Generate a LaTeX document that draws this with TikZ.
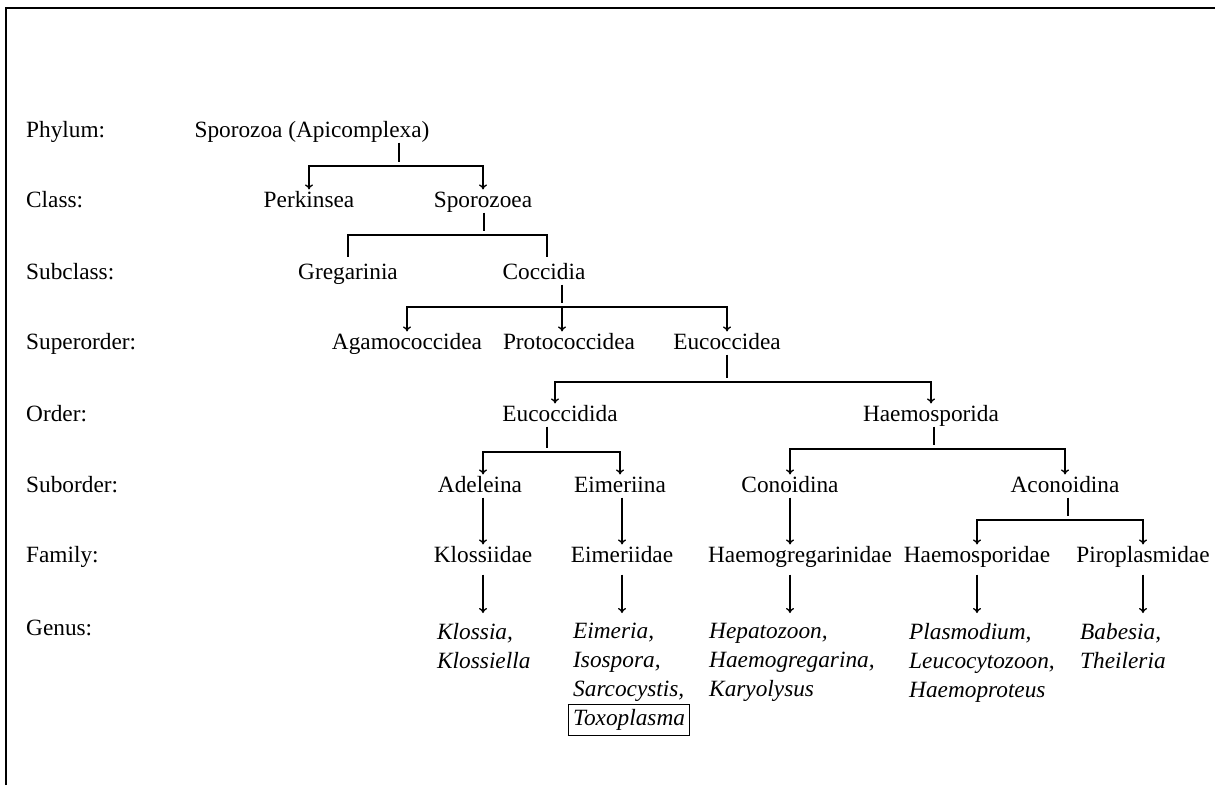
\documentclass[tikz,border=0pt]{standalone}
\usepackage{fontspec}
\setmainfont{Liberation Serif}
\usetikzlibrary{arrows.meta, positioning}

\begin{document}
\begin{tikzpicture}[x=1pt, y=-1pt,
    every node/.style={font=\fontsize{23.3}{29}\selectfont},
    taxon/.style={inner xsep=0pt, inner ysep=4pt, text height=1em, text depth=0.07em},
    rank/.style={anchor=west, inner sep=0pt, text height=1em, text depth=0.07em},
    genus/.style={anchor=north west, align=left, inner sep=0pt, font=\fontsize{23.3}{29}\selectfont\itshape},
    link/.style={line width=1.3pt, shorten >=4pt},
    >={To[length=5pt,width=8pt]}]
\useasboundingbox (0,0) rectangle (1215,785);
\draw[line width=2pt] (6,785) -- (6,8) -- (1215,8);

% ranks
\node[rank] (phylum) at (26,133) {Phylum:};
\node[rank] (class) at (26,203) {Class:};
\node[rank] (subclass) at (26,275) {Subclass:};
\node[rank] (superorder) at (26,345) {Superorder:};
\node[rank] (order) at (26,417) {Order:};
\node[rank] (suborder) at (26,488) {Suborder:};
\node[rank] (family) at (26,558) {Family:};
\node[rank] (genusrank) at (26,631) {Genus:};

% taxa
\node[taxon] (apic) at (312,133) {Sporozoa (Apicomplexa)};
\node[taxon] (perk) at (309,203) {Perkinsea};
\node[taxon] (spzoea) at (483,203) {Sporozoea};
\node[taxon] (greg) at (348,275) {Gregarinia};
\node[taxon] (cocc) at (544,275) {Coccidia};
\node[taxon] (agamo) at (407,345) {Agamococcidea};
\node[taxon] (proto) at (569,345) {Protococcidea};
\node[taxon] (eucoccidea) at (727,345) {Eucoccidea};
\node[taxon] (eucoccidida) at (560,417) {Eucoccidida};
\node[taxon] (haemosporida) at (931,417) {Haemosporida};
\node[taxon] (adel) at (480,488) {Adeleina};
\node[taxon] (eimeriina) at (620,488) {Eimeriina};
\node[taxon] (conoid) at (790,488) {Conoidina};
\node[taxon] (aconoid) at (1065,488) {Aconoidina};
\node[taxon] (klossiidae) at (483,558) {Klossiidae};
\node[taxon] (eimeriidae) at (622,558) {Eimeriidae};
\node[taxon] (haemogreg) at (800,558) {Haemogregarinidae};
\node[taxon] (haemospor) at (977,558) {Haemosporidae};
\node[taxon] (piro) at (1143,558) {Piroplasmidae};

% genera
\node[genus] (g1) at (437,623) {Klossia,\\Klossiella};
\node[genus] (g2) at (573,623) {Eimeria,\\Isospora,\\Sarcocystis,\\\hspace*{-5.3pt}\setlength{\fboxsep}{4pt}\setlength{\fboxrule}{1.3pt}\fbox{Toxoplasma}};
\node[genus] (g3) at (709,623) {Hepatozoon,\\Haemogregarina,\\Karyolysus};
\node[genus] (g4) at (909,623) {Plasmodium,\\Leucocytozoon,\\Haemoproteus};
\node[genus] (g5) at (1080,623) {Babesia,\\Theileria};

% forks
\coordinate (f1) at (399,166);
\coordinate (f2) at (484,235);
\coordinate (f3) at (562,307);
\coordinate (f4) at (727,382);
\coordinate (f5) at (547,452);
\coordinate (f6) at (934,449);
\coordinate (f7) at (1068,520);

\draw[link] (apic.south -| f1) -- (f1);
\draw[link,->] (f1) -| (perk);
\draw[link,->] (f1) -| (spzoea);

\draw[link] (spzoea.south -| f2) -- (f2);
\draw[link, shorten >=8pt] (f2) -| (greg);
\draw[link, shorten >=8pt] (f2) -| (cocc.north -| 547,0);

\draw[link] (cocc.south -| f3) -- (f3);
\draw[link,->] (f3) -| (agamo);
\draw[link,->] (f3) -- (f3 |- proto.north);
\draw[link,->] (f3) -| (eucoccidea);

\draw[link] (eucoccidea.south -| f4) -- (f4);
\draw[link,->] (f4) -| (eucoccidida.north -| 555,0);
\draw[link,->] (f4) -| (haemosporida);

\draw[link] (eucoccidida.south -| f5) -- (f5);
\draw[link,->] (f5) -| (adel.north -| klossiidae);
\draw[link,->] (f5) -| (eimeriina);

\draw[link] (haemosporida.south -| f6) -- (f6);
\draw[link,->] (f6) -| (conoid);
\draw[link,->] (f6) -| (aconoid);

\draw[link] (aconoid.south -| f7) -- (f7);
\draw[link,->] (f7) -| (haemospor);
\draw[link,->] (f7) -| (piro);

% single lines
\draw[link,->] (adel.south -| klossiidae) -- (klossiidae);
\draw[link,->] (eimeriina.south -| eimeriidae) -- (eimeriidae);
\draw[link,->] (conoid) -- (conoid |- haemogreg.north);

\draw[link,->,shorten <=7pt, shorten >=10pt] (klossiidae) -- (klossiidae |- g1.north);
\draw[link,->,shorten <=7pt, shorten >=10pt] (eimeriidae) -- (eimeriidae |- g2.north);
\draw[link,->,shorten <=7pt, shorten >=10pt] (haemogreg.south -| conoid) -- (conoid |- g3.north);
\draw[link,->,shorten <=7pt, shorten >=10pt] (haemospor) -- (haemospor |- g4.north);
\draw[link,->,shorten <=7pt, shorten >=10pt] (piro) -- (piro |- g5.north);
\end{tikzpicture}
\end{document}
